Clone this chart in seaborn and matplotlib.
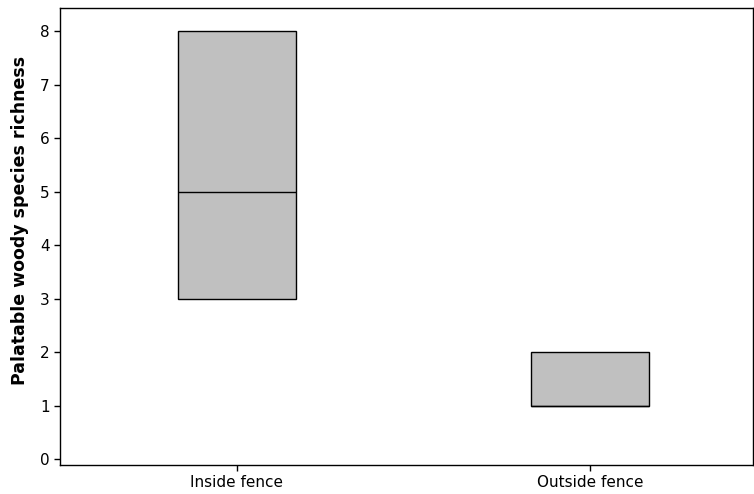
#!/usr/bin/env python3

import numpy as np
import pandas as pd
import matplotlib
matplotlib.use("Agg")
import matplotlib.pyplot as plt
import seaborn as sns

# raw values chosen so the quartiles match the boxes in the figure
inside_vals = [3, 3, 5, 8, 8]
outside_vals = [1, 1, 1, 2, 2]
groups = ["Inside fence", "Outside fence"]
y_ticks = [0, 1, 2, 3, 4, 5, 6, 7, 8]


def build_frame():
    rows = []
    for g, vals in zip(groups, [inside_vals, outside_vals]):
        for v in vals:
            rows.append({"site": g, "richness": v})
    return pd.DataFrame(rows)


def main():
    sns.set_style("ticks")
    plt.rcParams["font.family"] = ["DejaVu Sans"]
    plt.rcParams["text.color"] = "black"
    plt.rcParams["axes.labelcolor"] = "black"
    plt.rcParams["xtick.color"] = "black"
    plt.rcParams["ytick.color"] = "black"

    df = build_frame()

    fig = plt.figure(figsize=(7.54, 4.94), dpi=100)
    ax = fig.add_axes([60 / 754, 29 / 494, 693 / 754, 457 / 494])

    sns.boxplot(data=df, x="site", y="richness", order=groups, ax=ax,
                width=0.334, whis=0, showcaps=False, showfliers=False,
                color="#c0c0c0", saturation=1,
                boxprops=dict(edgecolor="black", linewidth=1.0),
                medianprops=dict(color="black", linewidth=1.0),
                whiskerprops=dict(linewidth=0))

    ax.set_xlim(-0.5, 1.46)
    ax.set_ylim(-0.11, 8.43)
    ax.set_yticks(y_ticks)
    ax.set_xlabel("")
    ax.set_ylabel("Palatable woody species richness", fontsize=12.5,
                  fontweight="bold", color="black")
    ax.yaxis.set_label_coords(-0.045, 0.536)
    ax.tick_params(axis="both", labelsize=11, length=4, width=1,
                   color="black", labelcolor="black")

    for s in ax.spines.values():
        s.set_visible(True)
        s.set_color("black")
        s.set_linewidth(1)

    fig.savefig("out.png", dpi=100)


if __name__ == '__main__':
    main()
